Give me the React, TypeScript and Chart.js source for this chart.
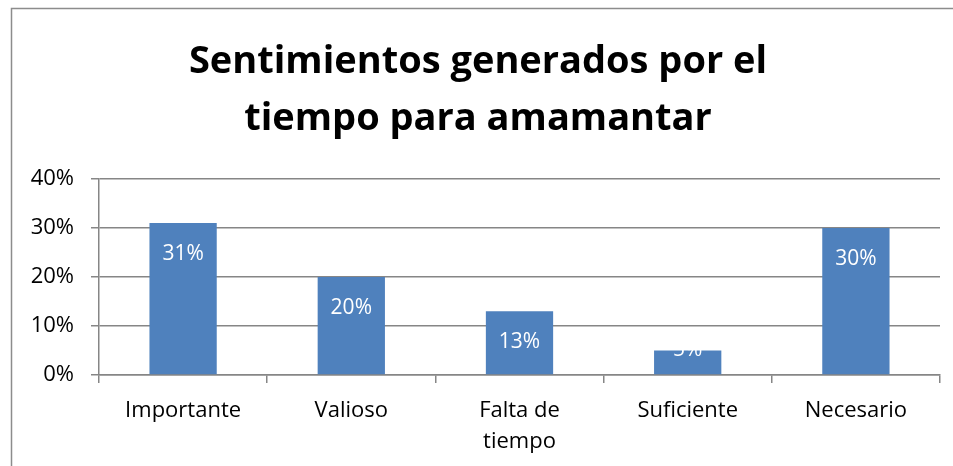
import React, { useEffect, useRef } from "react";
import { Chart, registerables } from "chart.js";

Chart.register(...registerables);

const titleLines = ["Sentimientos generados por el", "tiempo para amamantar"];
const categories: (string | string[])[] = ["Importante", "Valioso", ["Falta de", "tiempo"], "Suficiente", "Necesario"];
const values = [0.31, 0.2, 0.13, 0.05, 0.3];
const valueLabels = ["31%", "20%", "13%", "5%", "30%"];
const yMax = 0.4;
const yStep = 0.1;

const FONT = "'Open Sans', sans-serif";
const AXIS = "#868686";

export default function App() {
  const ref = useRef<HTMLCanvasElement | null>(null);
  useEffect(() => {
    if (!ref.current) return;
    const framePlugin = {
      id: "frame",
      beforeDraw(chart: any) {
        const ctx = chart.ctx;
        ctx.save();
        ctx.fillStyle = "#ffffff";
        ctx.fillRect(0, 0, chart.width, chart.height);
        ctx.strokeStyle = "#8c8c8c";
        ctx.lineWidth = 1.5;
        ctx.beginPath();
        ctx.moveTo(11.5, chart.height + 5);
        ctx.lineTo(11.5, 8.5);
        ctx.lineTo(chart.width + 5, 8.5);
        ctx.stroke();
        ctx.fillStyle = "#000000";
        ctx.font = "bold 38px " + FONT;
        ctx.textAlign = "center";
        ctx.textBaseline = "alphabetic";
        ctx.fillText(titleLines[0], 478, 73);
        ctx.fillText(titleLines[1], 478, 130);
        ctx.restore();
      },
    };
    const labelPlugin = {
      id: "barLabels",
      afterDatasetsDraw(chart: any) {
        const ctx = chart.ctx;
        const meta = chart.getDatasetMeta(0);
        const base = chart.scales.y.getPixelForValue(0);
        ctx.save();
        ctx.fillStyle = "#ffffff";
        ctx.font = "21px " + FONT;
        ctx.textAlign = "center";
        ctx.textBaseline = "middle";
        meta.data.forEach((el: any, i: number) => {
          const y = Math.min(el.y + 31, base - 25);
          ctx.fillText(valueLabels[i], el.x, y);
        });
        ctx.restore();
      },
    };
    const chart = new Chart(ref.current, {
      type: "bar",
      data: {
        labels: categories,
        datasets: [
          {
            data: values,
            backgroundColor: "#4F81BD",
            borderWidth: 0,
            barPercentage: 0.4,
            categoryPercentage: 1,
          },
        ],
      },
      options: {
        animation: false,
        responsive: false,
        maintainAspectRatio: false,
        layout: { padding: { top: 179, right: 13, left: 0, bottom: 0 } },
        plugins: {
          legend: { display: false },
          title: { display: false },
          tooltip: { enabled: false },
        },
        scales: {
          x: {
            grid: {
              display: true,
              drawOnChartArea: false,
              drawTicks: true,
              tickLength: 8,
              color: AXIS,
              lineWidth: 1.5,
            },
            border: { display: true, color: AXIS, width: 1.5 },
            ticks: {
              color: "#000000",
              font: { family: FONT, size: 22, lineHeight: 1.41 },
              padding: 12,
              maxRotation: 0,
              autoSkip: false,
            },
            afterFit(scale: any) {
              scale.height = 91;
            },
          },
          y: {
            min: 0,
            max: yMax,
            grid: {
              color: AXIS,
              lineWidth: 1.5,
              tickLength: 8,
              drawTicks: true,
            },
            border: { display: true, color: AXIS, width: 1.5 },
            ticks: {
              stepSize: yStep,
              color: "#000000",
              font: { family: FONT, size: 22 },
              padding: 17,
              callback: (v: any) => Math.round(Number(v) * 100) + "%",
            },
            afterFit(scale: any) {
              scale.width = 99;
            },
          },
        },
      },
      plugins: [framePlugin, labelPlugin],
    });
    return () => chart.destroy();
  }, []);
  return (
    <div style={{ position: "fixed", left: 0, top: 0, width: 953, height: 466 }}>
      <canvas ref={ref} width={953} height={466} style={{ display: "block", width: 953, height: 466 }} />
    </div>
  );
}
